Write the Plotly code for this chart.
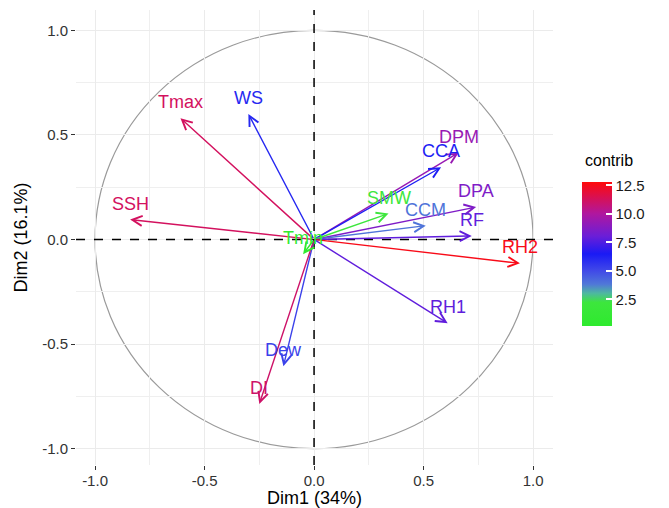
import plotly.graph_objects as go
from plotly.colors import sample_colorscale

# ---- data ----
variables = ["Tmax", "WS", "SSH", "DPM", "CCA", "DPA", "CCM", "SMW", "RF", "RH2", "RH1", "Dew", "DI", "Tmin"]
dim1 = [-0.61, -0.30, -0.84, 0.66, 0.58, 0.74, 0.51, 0.34, 0.72, 0.94, 0.61, -0.14, -0.25, -0.05]
dim2 = [0.58, 0.60, 0.095, 0.415, 0.345, 0.155, 0.066, 0.124, 0.017, -0.114, -0.40, -0.606, -0.786, -0.07]
contrib = [11.2, 6.0, 11.2, 9.3, 6.3, 8.6, 3.9, 2.2, 7.8, 12.5, 7.8, 5.2, 11.0, 0.5]

cb_ticks = [2.5, 5.0, 7.5, 10.0, 12.5]
cb_ticktext = ["2.5", "5.0", "7.5", "10.0", "12.5"]
axis_ticks = [-1.0, -0.5, 0.0, 0.5, 1.0]
axis_ticktext = ["-1.0", "-0.5", "0.0", "0.5", "1.0"]
minor_ticks = [-0.75, -0.25, 0.25, 0.75]

cmin, cmax = 0.13, 12.76
colorscale = [
    [0.0, "#2EEA2E"],
    [0.164, "#3DE63D"],
    [0.227, "#4DB8A0"],
    [0.29, "#5078D8"],
    [0.386, "#4048E8"],
    [0.5, "#1A1AF5"],
    [0.623, "#6A1ED8"],
    [0.78, "#B0179F"],
    [1.0, "#FF0A0A"],
]

FONT = "Liberation Sans, Arial, sans-serif"

norm = [(c - cmin) / (cmax - cmin) for c in contrib]
colors = sample_colorscale(colorscale, norm)

fig = go.Figure()

# invisible markers carrying the colour scale (for the colorbar)
fig.add_trace(go.Scatter(
    x=dim1, y=dim2, mode="markers", hoverinfo="skip", showlegend=False,
    marker=dict(
        color=contrib, colorscale=colorscale, cmin=cmin, cmax=cmax, opacity=0, size=1,
        showscale=True,
        colorbar=dict(
            thickness=30, len=144, lenmode="pixels",
            x=1.061, xanchor="left", xpad=0, ypad=0,
            y=0.463, yanchor="middle",
            tickvals=cb_ticks, ticktext=cb_ticktext,
            ticks="inside", ticklen=6, tickcolor="white", tickwidth=1.5,
            outlinewidth=0,
            tickfont=dict(size=15, color="#1a1a1a", family=FONT),
        ),
    ),
))

shapes = []
# correlation circle
shapes.append(dict(type="circle", xref="x", yref="y", x0=-1, y0=-1, x1=1, y1=1,
                   line=dict(color="#9a9a9a", width=1.2), layer="below"))
# dashed reference lines
shapes.append(dict(type="line", xref="paper", yref="y", x0=0, x1=1, y0=0, y1=0,
                   line=dict(color="black", width=1.5, dash="dash")))
shapes.append(dict(type="line", xref="x", yref="paper", x0=0, x1=0, y0=0, y1=1,
                   line=dict(color="black", width=1.5, dash="dash")))

annotations = []
for name, x, y, col in zip(variables, dim1, dim2, colors):
    annotations.append(dict(
        x=x, y=y, ax=0, ay=0, xref="x", yref="y", axref="x", ayref="y",
        text="", showarrow=True, arrowhead=5, arrowsize=1.4, arrowwidth=1.4,
        arrowcolor=col, standoff=0, startstandoff=0,
    ))
for name, x, y, col in zip(variables, dim1, dim2, colors):
    annotations.append(dict(
        x=x, y=y, xref="x", yref="y", text=name, showarrow=False,
        yshift=16, font=dict(size=18, color=col, family=FONT),
    ))
# colour-bar title
annotations.append(dict(
    x=1.063, y=0.669, xref="paper", yref="paper", xanchor="left", yanchor="middle",
    text="contrib", showarrow=False, font=dict(size=16, color="#000", family=FONT),
))

axis_common = dict(
    tickvals=axis_ticks, ticktext=axis_ticktext,
    showgrid=True, gridcolor="#EBEBEB", gridwidth=1.2,
    zeroline=False, showline=False, automargin=False,
    ticks="outside", ticklen=4, tickwidth=1.3, tickcolor="#333333",
    tickfont=dict(size=15, color="#333333", family=FONT),
    minor=dict(tickvals=minor_ticks, showgrid=True, gridcolor="#EFEFEF", gridwidth=1.0, ticks=""),
)

# the page body has an 8px margin, so the figure is shifted by (8, 8)
fig.update_layout(
    width=661, height=500,
    margin=dict(l=68, r=116, t=2, b=43, autoexpand=False),
    paper_bgcolor="white", plot_bgcolor="white",
    font=dict(family=FONT),
    shapes=shapes, annotations=annotations, showlegend=False,
    xaxis=dict(range=[-1.087, 1.091], ticklabelstandoff=-2,
               title=dict(text="Dim1 (34%)", font=dict(size=18, color="#000"), standoff=1),
               **axis_common),
    yaxis=dict(range=[-1.078, 1.097],
               title=dict(text="Dim2 (16.1%)", font=dict(size=18, color="#000"), standoff=9),
               **axis_common),
)

fig.write_html("out.html")
